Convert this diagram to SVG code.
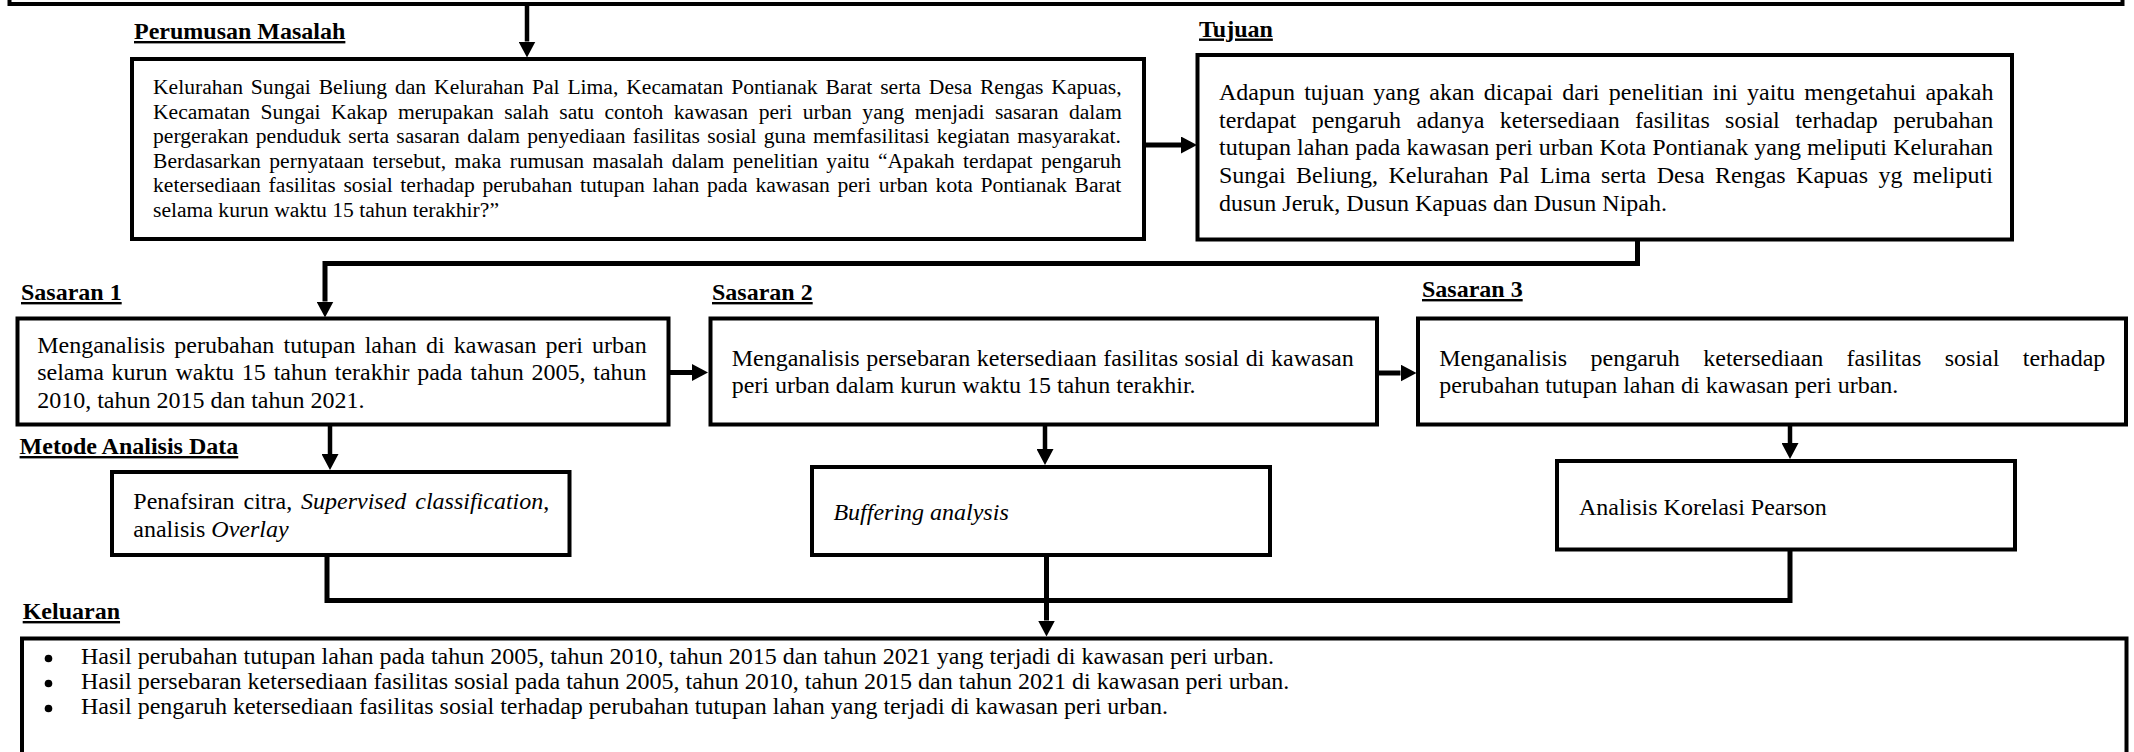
<svg xmlns="http://www.w3.org/2000/svg" width="2134" height="752" viewBox="0 0 2134 752">
<style>
.box{fill:#fff;stroke:#000;stroke-width:4}
.lbl{font-family:"Liberation Serif","Times New Roman",serif;font-size:24px;font-weight:bold;text-decoration:underline;fill:#000}
.t{font-family:"Liberation Serif","Times New Roman",serif;font-size:24px;fill:#000}
.ts{font-family:"Liberation Serif","Times New Roman",serif;font-size:21.6px;fill:#000}
.it{font-style:italic}
.c{fill:none;stroke:#000;stroke-width:5;stroke-linejoin:miter}
.c4{fill:none;stroke:#000;stroke-width:4.5}
</style>
<defs>
<marker id="ah" viewBox="0 0 16 17" refX="0" refY="8.5" markerWidth="16" markerHeight="17" markerUnits="userSpaceOnUse" orient="auto">
<path d="M0,0 L16,8.5 L0,17 Z" fill="#000"/>
</marker>
</defs>
<rect width="2134" height="752" fill="#fff"/>

<g id="connectors">
<path class="c4" d="M527,3 V41.5" marker-end="url(#ah)"/>
<path class="c" d="M1144,145 H1181" marker-end="url(#ah)"/>
<path class="c" d="M1637.5,239 V263.5 H325 V301.5" marker-end="url(#ah)"/>
<path class="c" d="M668,372.5 H692" marker-end="url(#ah)"/>
<path class="c" d="M1377,373 H1400.5" marker-end="url(#ah)"/>
<path class="c4" d="M330,425 V454" marker-end="url(#ah)"/>
<path class="c4" d="M1045,425 V449" marker-end="url(#ah)"/>
<path class="c4" d="M1790,424 V443" marker-end="url(#ah)"/>
<path class="c" d="M327,555 V600.5 H1790 V549"/>
<path class="c" d="M1046.5,555 V620.5" marker-end="url(#ah)"/>
</g>

<g id="top">
<rect class="box" x="9.5" y="-20" width="2113" height="24"/>
</g>

<g id="perumusan">
<text class="lbl" x="134" y="39">Perumusan Masalah</text>
<rect class="box" x="132" y="59" width="1012" height="180"/>
<text class="ts" x="153" y="94.3" word-spacing="2.5">Kelurahan Sungai Beliung dan Kelurahan Pal Lima, Kecamatan Pontianak Barat serta Desa Rengas Kapuas,</text>
<text class="ts" x="153" y="118.8" word-spacing="5.1">Kecamatan Sungai Kakap merupakan salah satu contoh kawasan peri urban yang menjadi sasaran dalam</text>
<text class="ts" x="153" y="143.3" word-spacing="1.9">pergerakan penduduk serta sasaran dalam penyediaan fasilitas sosial guna memfasilitasi kegiatan masyarakat.</text>
<text class="ts" x="153" y="167.7" word-spacing="3.0">Berdasarkan pernyataan tersebut, maka rumusan masalah dalam penelitian yaitu “Apakah terdapat pengaruh</text>
<text class="ts" x="153" y="192.2" word-spacing="2.3">ketersediaan fasilitas sosial terhadap perubahan tutupan lahan pada kawasan peri urban kota Pontianak Barat</text>
<text class="ts" x="153" y="216.7">selama kurun waktu 15 tahun terakhir?”</text>
</g>

<g id="tujuan">
<text class="lbl" x="1199" y="36.5">Tujuan</text>
<rect class="box" x="1197.5" y="55" width="814.5" height="184.5"/>
<text class="t" x="1219" y="99.7" word-spacing="3.2">Adapun tujuan yang akan dicapai dari penelitian ini yaitu mengetahui apakah</text>
<text class="t" x="1219" y="127.5" word-spacing="9.4">terdapat pengaruh adanya ketersediaan fasilitas sosial terhadap perubahan</text>
<text class="t" x="1219" y="155.2" word-spacing="0.1">tutupan lahan pada kawasan peri urban Kota Pontianak yang meliputi Kelurahan</text>
<text class="t" x="1219" y="183" word-spacing="4.4">Sungai Beliung, Kelurahan Pal Lima serta Desa Rengas Kapuas yg meliputi</text>
<text class="t" x="1219" y="210.7">dusun Jeruk, Dusun Kapuas dan Dusun Nipah.</text>
</g>

<g id="sasaran1">
<text class="lbl" x="21" y="300">Sasaran 1</text>
<rect class="box" x="17.5" y="318.5" width="651" height="106"/>
<text class="t" x="37.2" y="352.5" word-spacing="3.2">Menganalisis perubahan tutupan lahan di kawasan peri urban</text>
<text class="t" x="37.2" y="380" word-spacing="1.8">selama kurun waktu 15 tahun terakhir pada tahun 2005, tahun</text>
<text class="t" x="37.2" y="407.5">2010, tahun 2015 dan tahun 2021.</text>
</g>

<g id="sasaran2">
<text class="lbl" x="712" y="300">Sasaran 2</text>
<rect class="box" x="710.5" y="318.5" width="666.5" height="106"/>
<text class="t" x="731.7" y="365.5" word-spacing="0.6">Menganalisis persebaran ketersediaan fasilitas sosial di kawasan</text>
<text class="t" x="731.7" y="393">peri urban dalam kurun waktu 15 tahun terakhir.</text>
</g>

<g id="sasaran3">
<text class="lbl" x="1422" y="297">Sasaran 3</text>
<rect class="box" x="1418" y="318.5" width="708" height="106"/>
<text class="t" x="1439.2" y="365.5" word-spacing="17.4">Menganalisis pengaruh ketersediaan fasilitas sosial terhadap</text>
<text class="t" x="1439.2" y="393">perubahan tutupan lahan di kawasan peri urban.</text>
</g>

<g id="metode1">
<text class="lbl" x="19.6" y="454">Metode Analisis Data</text>
<rect class="box" x="112" y="472" width="457.5" height="83"/>
<text class="t" x="133.3" y="509" word-spacing="2.9">Penafsiran citra, <tspan class="it">Supervised classification</tspan>,</text>
<text class="t" x="133.3" y="536.5">analisis <tspan class="it">Overlay</tspan></text>
</g>

<g id="metode2">
<rect class="box" x="812" y="467" width="458" height="88"/>
<text class="t it" x="833.4" y="519.5">Buffering analysis</text>
</g>

<g id="metode3">
<rect class="box" x="1557" y="461" width="458" height="88.5"/>
<text class="t" x="1578.9" y="515">Analisis Korelasi Pearson</text>
</g>

<g id="keluaran">
<text class="lbl" x="22.7" y="619">Keluaran</text>
<rect class="box" x="22" y="638.5" width="2104.5" height="160"/>
<circle cx="48.5" cy="658.5" r="3.8" fill="#000"/>
<text class="t" x="81" y="664">Hasil perubahan tutupan lahan pada tahun 2005, tahun 2010, tahun 2015 dan tahun 2021 yang terjadi di kawasan peri urban.</text>
<circle cx="48.5" cy="683.5" r="3.8" fill="#000"/>
<text class="t" x="81" y="689">Hasil persebaran ketersediaan fasilitas sosial pada tahun 2005, tahun 2010, tahun 2015 dan tahun 2021 di kawasan peri urban.</text>
<circle cx="48.5" cy="708.5" r="3.8" fill="#000"/>
<text class="t" x="81" y="714">Hasil pengaruh ketersediaan fasilitas sosial terhadap perubahan tutupan lahan yang terjadi di kawasan peri urban.</text>
</g>
</svg>
